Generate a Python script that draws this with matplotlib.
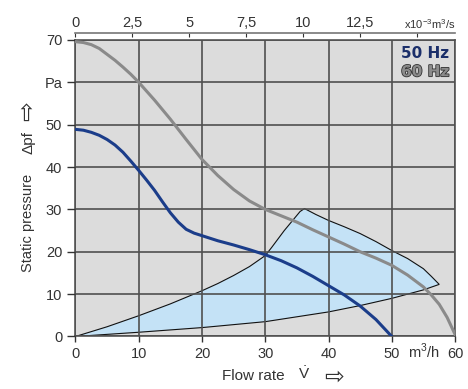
import matplotlib.pyplot as plt
import matplotlib.patheffects as pe

plt.rcParams['font.family'] = ['Liberation Sans', 'DejaVu Sans']
plt.rcParams['mathtext.fontset'] = 'custom'
plt.rcParams['mathtext.rm'] = 'Liberation Sans'

# flow rate in m3/h, static pressure in Pa
flow_50 = [0, 1.25, 2.5, 3.75, 5, 6.25, 7.5, 8.75, 10, 11.25, 12.5, 13.75, 15,
           16.25, 17.5, 18.75, 20, 22.5, 25, 27.5, 30, 32.5, 35, 37.5, 40,
           42.5, 45, 47.5, 50]
pres_50 = [48.9, 48.7, 48.2, 47.5, 46.5, 45.2, 43.5, 41.4, 39.2, 36.9, 34.5,
           31.8, 29.2, 27.0, 25.3, 24.4, 23.8, 22.6, 21.6, 20.5, 19.3, 17.9,
           16.2, 14.2, 12.0, 9.8, 7.2, 4.0, 0.0]

flow_60 = [0, 1.25, 2.5, 3.75, 5, 6.25, 7.5, 8.75, 10, 12.5, 15, 17.5, 20,
           22.5, 25, 27.5, 30, 32.5, 35, 37.5, 40, 42.5, 45, 47.5, 50, 52.5,
           55, 56.25, 57.5, 58.75, 60]
pres_60 = [69.6, 69.4, 68.9, 68.0, 66.6, 65.2, 63.6, 61.9, 60.0, 55.8, 51.3,
           46.5, 41.8, 38.0, 34.7, 32.0, 30.0, 28.5, 27.0, 25.2, 23.5, 21.8,
           20.0, 18.5, 16.8, 14.5, 11.7, 9.8, 7.6, 4.5, 0.5]

# operating region outline (lower edge, outer edge, left edge)
area_x = [0, 10, 20, 30, 40, 45, 50, 55, 57.5,
          56.25, 55, 52.5, 50, 47.5, 45, 42.5, 40, 38, 36.2,
          35.5, 35, 34, 33, 32, 31, 30, 27.5, 25, 22.5, 20, 15, 10, 5, 0]
area_y = [0, 1.0, 2.1, 3.5, 5.8, 7.3, 9.0, 11.0, 12.3,
          14.2, 16.0, 18.4, 20.3, 22.4, 24.3, 25.9, 27.4, 28.8, 30.2,
          29.5, 28.6, 26.8, 25.0, 23.0, 21.0, 19.1, 16.5, 14.4, 12.5, 10.8,
          7.7, 4.9, 2.3, 0]

xticks = [0, 10, 20, 30, 40, 50, 60]
yticks = [0, 10, 20, 30, 40, 50, 60, 70]
ylabels = ['0', '10', '20', '30', '40', '50', 'Pa', '70']
top_ticks = [0, 2.5, 5, 7.5, 10, 12.5, 15]
top_labels = ['0', '2,5', '5', '7,5', '10', '12,5', '']

W, H = 468, 389
fig = plt.figure(figsize=(W / 100, H / 100), dpi=100)
ax = fig.add_axes([0.1613, 0.135, 0.811, 0.7622])
ax.set_facecolor('#dcdcdc')

ax.fill(area_x, area_y, facecolor='#c4e2f6', edgecolor='#111111', lw=0.8, zorder=1)
ax.plot(flow_60, pres_60, color='#8a8a8a', lw=2.2, zorder=3)
ax.plot(flow_50, pres_50, color='#1b3d8a', lw=2.2, zorder=4)

ax.set_xlim(0, 60)
ax.set_ylim(0, 70)
ax.set_xticks(xticks)
ax.set_yticks(yticks)
ax.set_yticklabels(ylabels)
ax.set_axisbelow(False)
ax.grid(True, color='#505050', lw=1.2)
for s in ax.spines.values():
    s.set_color('#555555')
    s.set_linewidth(1.2)
ax.tick_params(colors='#333333', labelsize=10.5, length=4, width=1, direction='out')
ax.tick_params(axis='y', length=6)

# unit between the 50 and 60 labels on the bottom axis
ax.text(55, -5.0, 'm$^3$/h', ha='center', va='baseline', fontsize=10.5, color='#333333')

# axis titles, built from pieces (pixel positions of the reference)
tc = '#333333'
fig.text(222 / W, 1 - 376 / H, 'Flow rate', ha='left', va='center', fontsize=11, color=tc)
fig.text(304 / W, 1 - 374 / H, '$\\dot{\\mathrm{V}}$', ha='center', va='center',
         fontsize=11, color=tc)
fig.text(334 / W, 1 - 377 / H, '\u21e8', ha='center', va='center', fontsize=17,
         color=tc, family='DejaVu Sans')

fig.text(28 / W, 1 - 223 / H, 'Static pressure', ha='center', va='center',
         rotation=90, fontsize=10.5, color=tc)
fig.text(28 / W, 1 - 142 / H, '\u0394pf', ha='center', va='center',
         rotation=90, fontsize=11, color=tc)
fig.text(27 / W, 1 - 111 / H, '\u21e8', ha='center', va='center', rotation=90,
         fontsize=17, color=tc, family='DejaVu Sans')

sec = ax.secondary_xaxis('top', functions=(lambda v: v / 3.6, lambda v: v * 3.6))
sec.set_xticks(top_ticks)
sec.set_xticklabels(top_labels)
sec.spines['top'].set_position(('outward', 5))
sec.spines['top'].set_color('#777777')
sec.spines['top'].set_linewidth(1.2)
sec.tick_params(colors='#333333', labelsize=10.5, direction='in', length=3, pad=2)
ax.text(1.0, 1.054, 'x10$^{-3}$m$^3$/s', transform=ax.transAxes, ha='right',
        va='center', fontsize=8, color='#333333')

ax.text(0.985, 0.955, '50 Hz', transform=ax.transAxes, ha='right', va='center',
        fontsize=11, fontweight='bold', color='#1b2f6a', family='DejaVu Sans')
ax.text(0.985, 0.893, '60 Hz', transform=ax.transAxes, ha='right', va='center',
        fontsize=11, fontweight='bold', color='#8c8c8c', family='DejaVu Sans',
        path_effects=[pe.withStroke(linewidth=1.2, foreground='#333333')])

plt.savefig('out.png', dpi=100)
